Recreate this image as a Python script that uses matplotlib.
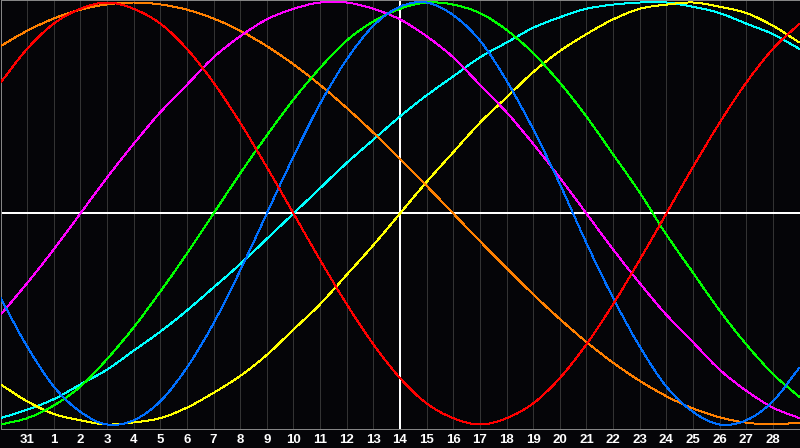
import matplotlib
matplotlib.use("Agg")
import matplotlib.pyplot as plt
from matplotlib.path import Path
from matplotlib.patches import PathPatch

# Day positions (grid index 0..30) and tick labels
days = list(range(31))
tick_pos = list(range(1, 30))
tick_labels = ["31"] + [str(d) for d in range(1, 29)]

# Series values (one value per day index)
blue = [-0.40, -0.63, -0.82, -0.94, -1.00, -0.98, -0.89, -0.73, -0.52, -0.27, 0.00,
        0.27, 0.52, 0.73, 0.89, 0.98, 1.00, 0.94, 0.82, 0.63, 0.40,
        0.14, -0.14, -0.40, -0.63, -0.82, -0.94, -1.00, -0.98, -0.89, -0.73]
red = [0.62, 0.78, 0.90, 0.97, 1.00, 0.97, 0.90, 0.78, 0.62, 0.43, 0.22,
       0.00, -0.22, -0.43, -0.62, -0.78, -0.90, -0.97, -1.00, -0.97, -0.90,
       -0.78, -0.62, -0.43, -0.22, 0.00, 0.22, 0.43, 0.62, 0.78, 0.90]
green = [-1.00, -0.97, -0.91, -0.82, -0.69, -0.54, -0.37, -0.19, 0.00, 0.19, 0.37,
         0.54, 0.69, 0.82, 0.91, 0.97, 1.00, 0.99, 0.95, 0.87, 0.76,
         0.62, 0.46, 0.28, 0.10, -0.10, -0.28, -0.46, -0.62, -0.76, -0.87]
magenta = [-0.48, -0.33, -0.17, 0.00, 0.17, 0.33, 0.48, 0.61, 0.74, 0.84, 0.92,
           0.97, 1.00, 1.00, 0.97, 0.92, 0.84, 0.74, 0.61, 0.48, 0.33,
           0.17, 0.00, -0.17, -0.33, -0.48, -0.61, -0.74, -0.84, -0.92, -0.97]
yellow = [-0.81, -0.89, -0.95, -0.98, -1.00, -0.99, -0.97, -0.92, -0.85, -0.77, -0.67,
          -0.55, -0.43, -0.29, -0.15, 0.00, 0.15, 0.29, 0.43, 0.55, 0.67,
          0.77, 0.85, 0.92, 0.97, 0.99, 1.00, 0.98, 0.95, 0.89, 0.81]
orange = [0.793, 0.866, 0.924, 0.966, 0.991, 1.000, 0.991, 0.966, 0.924, 0.866, 0.793,
          0.707, 0.609, 0.500, 0.383, 0.259, 0.131, 0.000, -0.131, -0.259, -0.383,
          -0.500, -0.609, -0.707, -0.793, -0.866, -0.924, -0.966, -0.991, -1.000, -0.991]
cyan = [-0.97, -0.93, -0.88, -0.81, -0.74, -0.65, -0.56, -0.46, -0.35, -0.24, -0.12,
        0.00, 0.12, 0.24, 0.35, 0.46, 0.56, 0.65, 0.74, 0.81, 0.88,
        0.93, 0.97, 0.99, 1.00, 1.00, 0.98, 0.95, 0.90, 0.85, 0.78]

series = [
    (cyan, "#00ffff"),
    (yellow, "#ffff00"),
    (orange, "#ff8000"),
    (magenta, "#ff00ff"),
    (green, "#00ff00"),
    (blue, "#0070ff"),
    (red, "#ff0000"),
]


def smooth_path(xs, ys):
    """Catmull-Rom style cubic Bezier path through the given points."""
    verts = [(xs[0], ys[0])]
    codes = [Path.MOVETO]
    n = len(xs)
    for i in range(n - 1):
        x0, y0 = (xs[i - 1], ys[i - 1]) if i > 0 else (2 * xs[i] - xs[i + 1], 2 * ys[i] - ys[i + 1])
        x1, y1 = xs[i], ys[i]
        x2, y2 = xs[i + 1], ys[i + 1]
        x3, y3 = (xs[i + 2], ys[i + 2]) if i + 2 < n else (2 * xs[i + 1] - xs[i], 2 * ys[i + 1] - ys[i])
        c1 = (x1 + (x2 - x0) / 6.0, y1 + (y2 - y0) / 6.0)
        c2 = (x2 - (x3 - x1) / 6.0, y2 - (y3 - y1) / 6.0)
        verts += [c1, c2, (x2, y2)]
        codes += [Path.CURVE4] * 3
    return Path(verts, codes)


W, H = 800, 448
BG = "#050508"
fig = plt.figure(figsize=(W / 100, H / 100), dpi=100, facecolor=BG)
ax = fig.add_axes([0.5 / W, (H - 428.5) / H, 799 / W, 428 / H])
ax.set_facecolor(BG)

ax.set_xlim(0, 30)
ax.set_ylim(-1.019, 1.0095)

ax.set_xticks(tick_pos)
ax.set_xticklabels(tick_labels, color="white", fontsize=9.5,
                   fontweight="bold", family="Liberation Sans")
ax.tick_params(axis="x", length=0, pad=4)
ax.set_yticks([])
ax.grid(axis="x", color="#333333", linewidth=0.7, antialiased=False)
ax.set_axisbelow(True)

for s in ax.spines.values():
    s.set_color("#8a8a8a")
    s.set_linewidth(0.7)

ax.axhline(0, color="white", linewidth=1.2, zorder=2, antialiased=False)
ax.axvline(15, color="white", linewidth=1.2, zorder=2, antialiased=False)

for vals, col in series:
    patch = PathPatch(smooth_path(days, vals), facecolor="none", edgecolor=col,
                      linewidth=0.7, zorder=3, antialiased=False)
    ax.add_patch(patch)

fig.savefig("out.png", dpi=100, facecolor=fig.get_facecolor())
